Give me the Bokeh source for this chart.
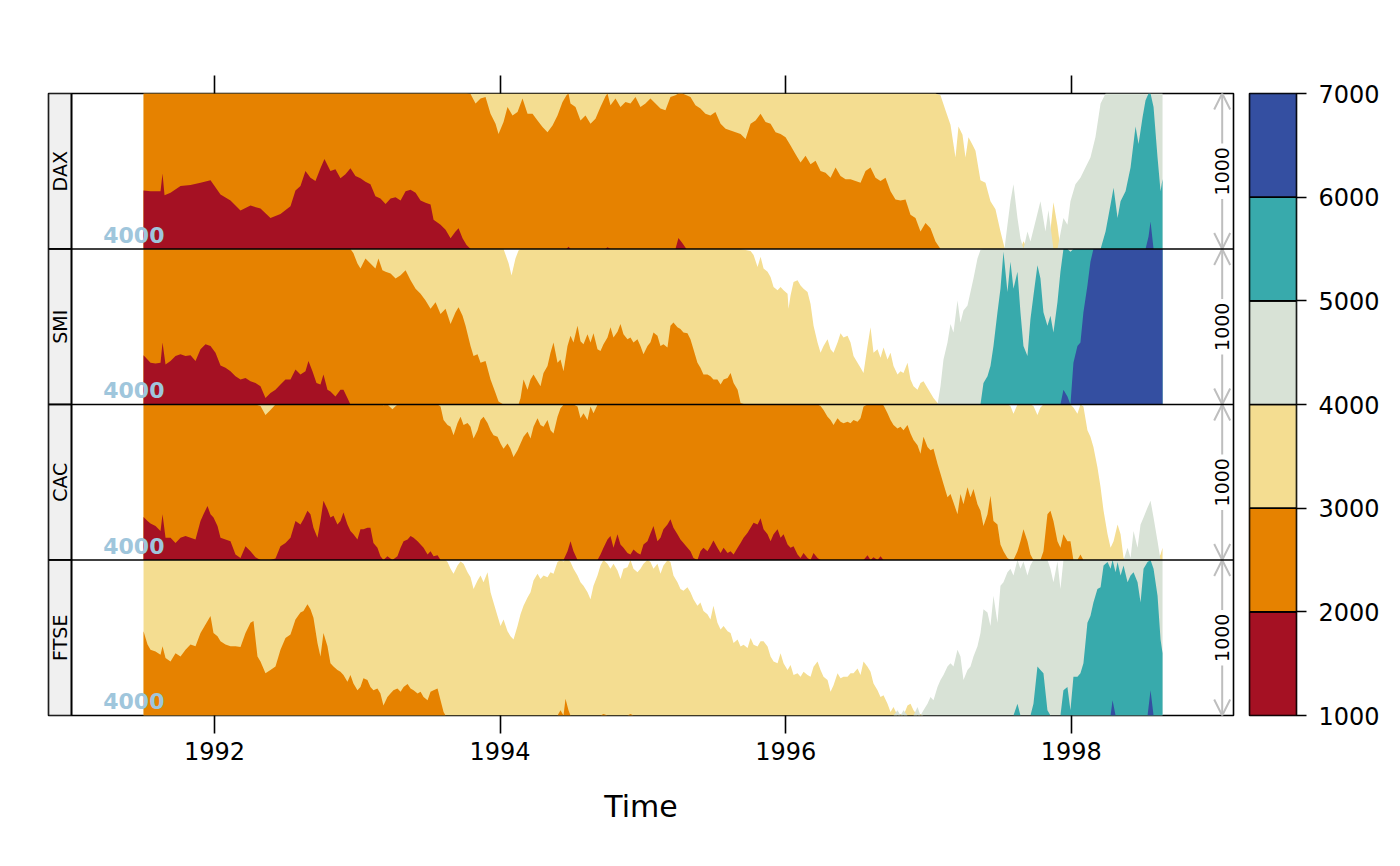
import numpy as np
from bokeh.plotting import figure
from bokeh.models import Range1d, LinearAxis, FixedTicker, Span, Arrow, OpenHead
from bokeh.layouts import row
from bokeh.embed import file_html
from bokeh.resources import INLINE
from bokeh.core.properties import value

# ---------------- data ----------------
series_names = ["DAX", "SMI", "CAC", "FTSE"]
origin_value = 4000
horizon_scale = 1000
x_ticks = [1992, 1994, 1996, 1998]
key_breaks = [1000, 2000, 3000, 4000, 5000, 6000, 7000]
key_colors = ["#A51123", "#E68200", "#F4DD91", "#D8E2D6", "#38AAAC", "#344FA1"]

dax_year = [1991.503, 1991.552, 1991.622, 1991.636, 1991.650, 1991.692, 1991.762, 1991.832, 1991.902, 1991.972,
            1992.042, 1992.112, 1992.182, 1992.252, 1992.322, 1992.392, 1992.462, 1992.532, 1992.567, 1992.602,
            1992.637, 1992.672, 1992.707, 1992.742, 1992.770, 1992.812, 1992.847, 1992.882, 1992.917, 1992.952,
            1992.987, 1993.022, 1993.057, 1993.092, 1993.127, 1993.162, 1993.198, 1993.233, 1993.268, 1993.303,
            1993.338, 1993.373, 1993.408, 1993.443, 1993.478, 1993.513, 1993.534, 1993.583, 1993.618, 1993.653,
            1993.688, 1993.709, 1993.737, 1993.765, 1993.793, 1993.828, 1993.863, 1993.898, 1993.933, 1993.968,
            1993.989, 1994.024, 1994.052, 1994.087, 1994.122, 1994.157, 1994.192, 1994.227, 1994.262, 1994.297,
            1994.332, 1994.367, 1994.402, 1994.437, 1994.465, 1994.479, 1994.493, 1994.528, 1994.563, 1994.598,
            1994.633, 1994.668, 1994.703, 1994.738, 1994.752, 1994.773, 1994.808, 1994.843, 1994.878, 1994.913,
            1994.948, 1994.983, 1995.018, 1995.053, 1995.088, 1995.123, 1995.158, 1995.193, 1995.228, 1995.249,
            1995.277, 1995.305, 1995.333, 1995.368, 1995.403, 1995.438, 1995.473, 1995.508, 1995.544, 1995.579,
            1995.614, 1995.649, 1995.684, 1995.719, 1995.754, 1995.789, 1995.824, 1995.859, 1995.894, 1995.929,
            1995.964, 1995.999, 1996.034, 1996.069, 1996.104, 1996.139, 1996.174, 1996.209, 1996.244, 1996.279,
            1996.314, 1996.349, 1996.384, 1996.419, 1996.454, 1996.489, 1996.524, 1996.559, 1996.594, 1996.629,
            1996.664, 1996.699, 1996.734, 1996.769, 1996.804, 1996.839, 1996.874, 1996.909, 1996.944, 1996.979,
            1997.014, 1997.049, 1997.084, 1997.119, 1997.154, 1997.189, 1997.210, 1997.238, 1997.259, 1997.280,
            1997.308, 1997.329, 1997.364, 1997.399, 1997.434, 1997.469, 1997.504, 1997.532, 1997.553, 1997.574,
            1997.595, 1997.623, 1997.644, 1997.665, 1997.693, 1997.714, 1997.749, 1997.784, 1997.819, 1997.840,
            1997.875, 1997.903, 1997.924, 1997.945, 1997.973, 1997.994, 1998.029, 1998.064, 1998.099, 1998.134,
            1998.169, 1998.205, 1998.240, 1998.275, 1998.296, 1998.324, 1998.345, 1998.380, 1998.415, 1998.450,
            1998.471, 1998.499, 1998.520, 1998.541, 1998.555, 1998.576, 1998.604, 1998.625, 1998.639]
dax_value = [1623, 1628, 1628, 1515, 1654, 1639, 1595, 1589, 1574, 1558,
             1649, 1688, 1753, 1721, 1740, 1801, 1775, 1725, 1623, 1595,
             1498, 1541, 1563, 1481, 1422, 1498, 1487, 1545, 1519, 1481,
             1530, 1545, 1567, 1584, 1660, 1675, 1710, 1675, 1667, 1688,
             1628, 1619, 1639, 1688, 1703, 1714, 1812, 1844, 1877, 1931,
             1887, 1866, 1931, 1974, 2004, 2065, 2032, 2022, 2130, 2195,
             2260, 2184, 2087, 2141, 2119, 2032, 2130, 2130, 2173, 2216,
             2249, 2206, 2141, 2054, 2011, 1985, 2065, 2087, 2173, 2141,
             2195, 2162, 2087, 2017, 1988, 2076, 2032, 2087, 2054, 2065,
             2022, 2087, 2065, 2032, 2065, 2097, 2108, 2022, 2011, 1930,
             1963, 2011, 2022, 2076, 2097, 2130, 2141, 2119, 2195, 2227,
             2238, 2249, 2260, 2292, 2195, 2173, 2130, 2184, 2195, 2249,
             2260, 2281, 2335, 2390, 2444, 2400, 2455, 2433, 2498, 2509,
             2541, 2476, 2530, 2552, 2552, 2563, 2574, 2498, 2476, 2541,
             2563, 2541, 2628, 2682, 2688, 2682, 2779, 2801, 2887, 2833,
             2866, 2952, 3011, 3108, 3201, 3411, 3212, 3266, 3411, 3281,
             3330, 3368, 3558, 3574, 3693, 3745, 3887, 3990, 4156, 4307,
             4416, 4199, 4069, 3950, 4113, 4048, 4177, 4307, 4113, 4250,
             3700, 3850, 4100, 4199, 4156, 4307, 4416, 4459, 4524, 4589,
             4719, 4935, 5113, 5286, 5394, 5199, 5307, 5372, 5524, 5788,
             5675, 5848, 5957, 6080, 6177, 5913, 5589, 5372, 5450]

smi_year = [1991.503, 1991.552, 1991.587, 1991.622, 1991.636, 1991.657, 1991.692, 1991.727, 1991.762, 1991.797,
            1991.832, 1991.867, 1991.902, 1991.937, 1991.972, 1992.007, 1992.042, 1992.077, 1992.112, 1992.147,
            1992.182, 1992.217, 1992.252, 1992.287, 1992.322, 1992.357, 1992.392, 1992.427, 1992.462, 1992.497,
            1992.532, 1992.567, 1992.602, 1992.637, 1992.658, 1992.686, 1992.714, 1992.742, 1992.763, 1992.791,
            1992.812, 1992.847, 1992.882, 1992.903, 1992.931, 1992.952, 1992.973, 1993.001, 1993.022, 1993.057,
            1993.092, 1993.127, 1993.148, 1993.176, 1993.198, 1993.233, 1993.268, 1993.303, 1993.338, 1993.373,
            1993.408, 1993.443, 1993.478, 1993.513, 1993.548, 1993.583, 1993.618, 1993.653, 1993.688, 1993.709,
            1993.737, 1993.758, 1993.793, 1993.814, 1993.842, 1993.863, 1993.898, 1993.933, 1993.968, 1993.989,
            1994.024, 1994.059, 1994.080, 1994.108, 1994.129, 1994.143, 1994.164, 1994.192, 1994.213, 1994.234,
            1994.262, 1994.283, 1994.304, 1994.332, 1994.353, 1994.374, 1994.402, 1994.423, 1994.444, 1994.472,
            1994.493, 1994.514, 1994.542, 1994.563, 1994.584, 1994.612, 1994.633, 1994.654, 1994.682, 1994.703,
            1994.724, 1994.752, 1994.773, 1994.794, 1994.822, 1994.843, 1994.864, 1994.892, 1994.913, 1994.934,
            1994.962, 1994.983, 1995.004, 1995.032, 1995.053, 1995.074, 1995.102, 1995.123, 1995.144, 1995.172,
            1995.193, 1995.214, 1995.242, 1995.263, 1995.284, 1995.312, 1995.333, 1995.354, 1995.382, 1995.403,
            1995.424, 1995.452, 1995.473, 1995.494, 1995.522, 1995.544, 1995.565, 1995.593, 1995.614, 1995.635,
            1995.663, 1995.684, 1995.719, 1995.754, 1995.775, 1995.803, 1995.824, 1995.845, 1995.873, 1995.894,
            1995.915, 1995.943, 1995.964, 1995.985, 1996.013, 1996.020, 1996.034, 1996.055, 1996.083, 1996.104,
            1996.125, 1996.153, 1996.174, 1996.195, 1996.223, 1996.244, 1996.265, 1996.293, 1996.314, 1996.335,
            1996.363, 1996.384, 1996.405, 1996.433, 1996.454, 1996.475, 1996.503, 1996.524, 1996.545, 1996.573,
            1996.594, 1996.615, 1996.643, 1996.664, 1996.685, 1996.713, 1996.734, 1996.755, 1996.783, 1996.804,
            1996.825, 1996.853, 1996.874, 1996.895, 1996.923, 1996.944, 1996.965, 1996.993, 1997.014, 1997.035,
            1997.063, 1997.084, 1997.105, 1997.133, 1997.154, 1997.175, 1997.203, 1997.224, 1997.245, 1997.273,
            1997.294, 1997.315, 1997.343, 1997.364, 1997.385, 1997.413, 1997.434, 1997.455, 1997.483, 1997.504,
            1997.525, 1997.553, 1997.574, 1997.595, 1997.623, 1997.644, 1997.665, 1997.693, 1997.714, 1997.735,
            1997.763, 1997.784, 1997.805, 1997.833, 1997.854, 1997.875, 1997.903, 1997.924, 1997.945, 1997.973,
            1997.994, 1998.015, 1998.043, 1998.064, 1998.085, 1998.113, 1998.134, 1998.155, 1998.205, 1998.275,
            1998.345, 1998.415, 1998.485, 1998.555, 1998.604, 1998.639]
smi_value = [1684, 1732, 1736, 1732, 1602, 1742, 1721, 1688, 1677, 1688,
             1684, 1721, 1645, 1613, 1623, 1667, 1749, 1764, 1786, 1818,
             1840, 1829, 1851, 1861, 1883, 1959, 1926, 1905, 1872, 1840,
             1840, 1775, 1807, 1786, 1721, 1786, 1861, 1872, 1807, 1905,
             1916, 1948, 1905, 1905, 1959, 2000, 2028, 2093, 2126, 2061,
             2093, 2126, 2061, 2136, 2147, 2158, 2190, 2169, 2136, 2201,
             2255, 2288, 2331, 2385, 2342, 2418, 2385, 2483, 2407, 2374,
             2429, 2494, 2623, 2688, 2677, 2732, 2721, 2840, 2926, 2981,
             3000, 3090, 3170, 3060, 3010, 2960, 2840, 2905, 2840, 2807,
             2851, 2883, 2797, 2753, 2667, 2602, 2732, 2710, 2786, 2623,
             2558, 2602, 2494, 2593, 2613, 2548, 2602, 2541, 2645, 2656,
             2613, 2569, 2504, 2569, 2532, 2483, 2548, 2580, 2569, 2602,
             2580, 2623, 2677, 2623, 2600, 2537, 2558, 2623, 2613, 2634,
             2494, 2472, 2504, 2515, 2537, 2541, 2580, 2645, 2732, 2764,
             2807, 2807, 2818, 2840, 2840, 2872, 2840, 2829, 2797, 2861,
             2905, 2991, 3006, 3013, 3039, 3115, 3050, 3126, 3147, 3180,
             3245, 3266, 3245, 3266, 3288, 3385, 3299, 3212, 3201, 3234,
             3255, 3277, 3353, 3494, 3602, 3667, 3623, 3580, 3645, 3667,
             3602, 3541, 3569, 3558, 3602, 3688, 3732, 3764, 3797, 3623,
             3504, 3667, 3645, 3699, 3634, 3710, 3667, 3753, 3807, 3786,
             3797, 3732, 3840, 3883, 3905, 3861, 3851, 3894, 3926, 3959,
             3991, 4117, 4290, 4398, 4517, 4463, 4669, 4528, 4604, 4636,
             4723, 4810, 4939, 4994, 5139, 5182, 5247, 5377, 5593, 5745,
             5983, 5723, 5918, 5745, 5853, 5593, 5377, 5312, 5550, 5701,
             5896, 5810, 5593, 5506, 5571, 5463, 5658, 5853, 6095, 6052,
             5983, 6268, 6377, 6398, 6593, 6766, 6918, 7050, 7300, 7600,
             7700, 8000, 8200, 8300, 7900, 7700]

cac_year = [1991.503, 1991.531, 1991.552, 1991.587, 1991.622, 1991.636, 1991.657, 1991.692, 1991.727, 1991.762,
            1991.797, 1991.832, 1991.867, 1991.902, 1991.923, 1991.951, 1991.972, 1991.993, 1992.021, 1992.042,
            1992.077, 1992.112, 1992.147, 1992.182, 1992.217, 1992.252, 1992.287, 1992.322, 1992.357, 1992.392,
            1992.427, 1992.462, 1992.497, 1992.532, 1992.567, 1992.602, 1992.623, 1992.651, 1992.672, 1992.693,
            1992.721, 1992.742, 1992.763, 1992.791, 1992.812, 1992.833, 1992.861, 1992.882, 1992.903, 1992.931,
            1992.952, 1992.973, 1993.001, 1993.022, 1993.043, 1993.071, 1993.092, 1993.113, 1993.141, 1993.162,
            1993.183, 1993.211, 1993.246, 1993.281, 1993.303, 1993.324, 1993.352, 1993.373, 1993.394, 1993.422,
            1993.443, 1993.464, 1993.492, 1993.513, 1993.534, 1993.562, 1993.583, 1993.604, 1993.632, 1993.653,
            1993.674, 1993.702, 1993.723, 1993.744, 1993.772, 1993.793, 1993.814, 1993.842, 1993.863, 1993.884,
            1993.912, 1993.933, 1993.954, 1993.982, 1994.003, 1994.024, 1994.052, 1994.073, 1994.094, 1994.122,
            1994.143, 1994.164, 1994.192, 1994.213, 1994.234, 1994.262, 1994.283, 1994.304, 1994.332, 1994.353,
            1994.374, 1994.402, 1994.423, 1994.444, 1994.472, 1994.493, 1994.514, 1994.542, 1994.563, 1994.584,
            1994.612, 1994.633, 1994.654, 1994.682, 1994.703, 1994.724, 1994.752, 1994.773, 1994.794, 1994.822,
            1994.843, 1994.864, 1994.892, 1994.913, 1994.934, 1994.962, 1994.983, 1995.004, 1995.032, 1995.053,
            1995.074, 1995.102, 1995.123, 1995.144, 1995.172, 1995.193, 1995.214, 1995.242, 1995.263, 1995.284,
            1995.312, 1995.333, 1995.354, 1995.382, 1995.403, 1995.424, 1995.452, 1995.473, 1995.494, 1995.522,
            1995.544, 1995.565, 1995.593, 1995.614, 1995.635, 1995.663, 1995.684, 1995.705, 1995.733, 1995.754,
            1995.775, 1995.803, 1995.824, 1995.845, 1995.873, 1995.894, 1995.915, 1995.943, 1995.964, 1995.985,
            1996.013, 1996.034, 1996.055, 1996.083, 1996.104, 1996.125, 1996.153, 1996.174, 1996.195, 1996.223,
            1996.244, 1996.265, 1996.293, 1996.314, 1996.335, 1996.363, 1996.384, 1996.405, 1996.433, 1996.454,
            1996.475, 1996.503, 1996.524, 1996.545, 1996.573, 1996.594, 1996.615, 1996.643, 1996.664, 1996.685,
            1996.713, 1996.734, 1996.755, 1996.783, 1996.804, 1996.825, 1996.853, 1996.874, 1996.895, 1996.923,
            1996.944, 1996.965, 1996.993, 1997.014, 1997.035, 1997.063, 1997.084, 1997.105, 1997.133, 1997.154,
            1997.175, 1997.203, 1997.224, 1997.245, 1997.273, 1997.294, 1997.315, 1997.343, 1997.364, 1997.385,
            1997.413, 1997.434, 1997.455, 1997.483, 1997.504, 1997.525, 1997.553, 1997.574, 1997.595, 1997.623,
            1997.644, 1997.665, 1997.693, 1997.714, 1997.735, 1997.763, 1997.784, 1997.805, 1997.833, 1997.854,
            1997.875, 1997.903, 1997.924, 1997.945, 1997.973, 1997.994, 1998.015, 1998.043, 1998.064, 1998.085,
            1998.113, 1998.134, 1998.155, 1998.183, 1998.205, 1998.226, 1998.254, 1998.275, 1998.296, 1998.324,
            1998.345, 1998.366, 1998.394, 1998.415, 1998.436, 1998.464, 1998.485, 1998.506, 1998.534, 1998.555,
            1998.576, 1998.604, 1998.625, 1998.639]
cac_value = [1723, 1749, 1766, 1781, 1814, 1706, 1857, 1857, 1890, 1857,
             1846, 1857, 1868, 1749, 1706, 1652, 1706, 1727, 1781, 1857,
             1868, 1879, 1965, 1987, 1911, 1944, 1983, 2010, 2067, 2035,
             1990, 1911, 1890, 1857, 1749, 1771, 1738, 1684, 1706, 1792,
             1857, 1749, 1619, 1673, 1727, 1716, 1771, 1749, 1695, 1771,
             1814, 1835, 1868, 1803, 1803, 1792, 1792, 1890, 1922, 1976,
             2005, 1976, 2030, 1976, 1922, 1879, 1868, 1846, 1857, 1879,
             1900, 1922, 1965, 1944, 1976, 1970, 2013, 2100, 2132, 2143,
             2197, 2119, 2078, 2132, 2119, 2143, 2219, 2165, 2100, 2078,
             2119, 2165, 2197, 2208, 2251, 2284, 2251, 2284, 2338, 2295,
             2251, 2208, 2175, 2219, 2143, 2089, 2132, 2143, 2100, 2165,
             2186, 2078, 2024, 2002, 1944, 1879, 1944, 2013, 2089, 2056,
             2100, 2013, 2056, 2002, 1965, 1922, 1868, 1846, 1922, 1835,
             1900, 1922, 1955, 1965, 1933, 1955, 1965, 1900, 1879, 1830,
             1781, 1879, 1857, 1803, 1771, 1738, 1792, 1835, 1868, 1890,
             1922, 1944, 1987, 2000, 1944, 1922, 1944, 1911, 1874, 1922,
             1955, 1922, 1955, 1944, 1965, 1922, 1890, 1857, 1825, 1792,
             1760, 1771, 1732, 1803, 1835, 1879, 1835, 1803, 1857, 1835,
             1900, 1922, 1911, 1965, 1987, 1955, 1987, 2003, 1955, 1987,
             2010, 2035, 2078, 2100, 2132, 2089, 2111, 2121, 2111, 2121,
             2100, 2111, 2089, 2013, 1970, 2000, 1983, 2002, 1976, 2005,
             2056, 2100, 2132, 2154, 2143, 2165, 2132, 2186, 2229, 2262,
             2316, 2208, 2273, 2294, 2284, 2381, 2446, 2511, 2597, 2576,
             2630, 2706, 2576, 2641, 2532, 2597, 2543, 2641, 2684, 2781,
             2706, 2587, 2749, 2771, 2900, 2944, 2987, 3010, 3060, 2944,
             2879, 2803, 2879, 2965, 3010, 3067, 3020, 2944, 2706, 2684,
             2749, 2879, 2922, 2835, 2879, 2879, 3020, 3060, 2965, 3013,
             3165, 3208, 3273, 3403, 3532, 3684, 3835, 3922, 3879, 3771,
             3835, 3987, 4078, 4013, 4186, 4078, 4229, 4273, 4338, 4381,
             4273, 4121, 3965, 3922]

ftse_year = [1991.503, 1991.531, 1991.552, 1991.587, 1991.622, 1991.636, 1991.657, 1991.692, 1991.727, 1991.762,
             1991.797, 1991.832, 1991.867, 1991.902, 1991.937, 1991.972, 1991.993, 1992.021, 1992.042, 1992.077,
             1992.112, 1992.147, 1992.182, 1992.217, 1992.252, 1992.273, 1992.301, 1992.322, 1992.357, 1992.392,
             1992.427, 1992.462, 1992.497, 1992.532, 1992.567, 1992.602, 1992.623, 1992.651, 1992.672, 1992.693,
             1992.721, 1992.742, 1992.763, 1992.791, 1992.812, 1992.833, 1992.861, 1992.882, 1992.903, 1992.931,
             1992.952, 1992.973, 1993.001, 1993.022, 1993.043, 1993.071, 1993.092, 1993.113, 1993.141, 1993.162,
             1993.183, 1993.211, 1993.232, 1993.253, 1993.281, 1993.303, 1993.324, 1993.352, 1993.373, 1993.394,
             1993.422, 1993.443, 1993.464, 1993.492, 1993.513, 1993.534, 1993.562, 1993.583, 1993.604, 1993.618,
             1993.632, 1993.653, 1993.674, 1993.702, 1993.723, 1993.744, 1993.772, 1993.793, 1993.814, 1993.842,
             1993.863, 1993.884, 1993.912, 1993.933, 1993.954, 1993.982, 1994.003, 1994.024, 1994.052, 1994.073,
             1994.094, 1994.122, 1994.143, 1994.164, 1994.192, 1994.213, 1994.234, 1994.262, 1994.283, 1994.304,
             1994.332, 1994.353, 1994.374, 1994.402, 1994.423, 1994.444, 1994.458, 1994.479, 1994.493, 1994.514,
             1994.542, 1994.563, 1994.584, 1994.612, 1994.633, 1994.654, 1994.682, 1994.703, 1994.724, 1994.752,
             1994.773, 1994.794, 1994.822, 1994.843, 1994.864, 1994.892, 1994.913, 1994.934, 1994.962, 1994.983,
             1995.004, 1995.032, 1995.053, 1995.074, 1995.102, 1995.123, 1995.144, 1995.172, 1995.193, 1995.214,
             1995.242, 1995.263, 1995.284, 1995.312, 1995.333, 1995.354, 1995.382, 1995.403, 1995.424, 1995.452,
             1995.473, 1995.494, 1995.522, 1995.544, 1995.565, 1995.593, 1995.614, 1995.635, 1995.663, 1995.684,
             1995.705, 1995.733, 1995.754, 1995.775, 1995.803, 1995.824, 1995.845, 1995.873, 1995.894, 1995.915,
             1995.943, 1995.964, 1995.985, 1996.013, 1996.034, 1996.055, 1996.083, 1996.104, 1996.125, 1996.153,
             1996.174, 1996.195, 1996.223, 1996.244, 1996.265, 1996.293, 1996.314, 1996.335, 1996.363, 1996.384,
             1996.405, 1996.433, 1996.454, 1996.475, 1996.503, 1996.524, 1996.545, 1996.573, 1996.594, 1996.615,
             1996.643, 1996.664, 1996.685, 1996.713, 1996.734, 1996.755, 1996.783, 1996.804, 1996.825, 1996.853,
             1996.874, 1996.895, 1996.923, 1996.944, 1996.965, 1996.993, 1997.014, 1997.035, 1997.063, 1997.084,
             1997.105, 1997.133, 1997.154, 1997.175, 1997.203, 1997.224, 1997.245, 1997.273, 1997.294, 1997.315,
             1997.343, 1997.364, 1997.385, 1997.413, 1997.434, 1997.455, 1997.483, 1997.504, 1997.525, 1997.553,
             1997.574, 1997.595, 1997.623, 1997.644, 1997.665, 1997.693, 1997.714, 1997.735, 1997.763, 1997.784,
             1997.805, 1997.833, 1997.854, 1997.875, 1997.903, 1997.924, 1997.945, 1997.973, 1997.994, 1998.015,
             1998.043, 1998.064, 1998.085, 1998.113, 1998.134, 1998.155, 1998.183, 1998.205, 1998.226, 1998.254,
             1998.275, 1998.289, 1998.310, 1998.324, 1998.345, 1998.366, 1998.394, 1998.415, 1998.436, 1998.464,
             1998.485, 1998.506, 1998.534, 1998.555, 1998.576, 1998.604, 1998.625, 1998.639]
ftse_value = [2458, 2544, 2577, 2588, 2610, 2555, 2631, 2653, 2599, 2620,
              2577, 2544, 2555, 2469, 2414, 2360, 2469, 2490, 2523, 2544,
              2555, 2555, 2560, 2469, 2403, 2393, 2620, 2653, 2729, 2707,
              2685, 2577, 2501, 2479, 2382, 2338, 2328, 2284, 2317, 2371,
              2534, 2620, 2469, 2555, 2664, 2685, 2707, 2718, 2740, 2783,
              2740, 2794, 2837, 2816, 2761, 2772, 2816, 2837, 2826, 2859,
              2935, 2881, 2859, 2837, 2826, 2848, 2816, 2798, 2826, 2837,
              2859, 2848, 2881, 2902, 2848, 2837, 2826, 2902, 2978, 3000,
              3013, 3056, 3089, 3035, 3009, 3024, 3078, 3111, 3187, 3132,
              3100, 3143, 3078, 3208, 3273, 3360, 3425, 3382, 3458, 3490,
              3512, 3425, 3349, 3295, 3241, 3208, 3132, 3089, 3122, 3100,
              3111, 3078, 3089, 3013, 2967, 3010, 2892, 2967, 3013, 3056,
              3100, 3143, 3165, 3208, 3252, 3165, 3100, 3035, 2990, 3024,
              3056, 3024, 3067, 3122, 3056, 3046, 2990, 3056, 3078, 3056,
              3024, 3000, 3013, 3056, 3024, 3089, 3035, 3002, 3013, 3100,
              3143, 3187, 3198, 3176, 3208, 3252, 3295, 3273, 3328, 3349,
              3382, 3295, 3404, 3447, 3425, 3458, 3469, 3534, 3512, 3556,
              3545, 3566, 3501, 3545, 3556, 3523, 3523, 3556, 3620, 3653,
              3664, 3599, 3664, 3707, 3675, 3740, 3729, 3751, 3718, 3740,
              3751, 3686, 3653, 3707, 3751, 3772, 3848, 3805, 3729, 3761,
              3751, 3751, 3729, 3729, 3697, 3740, 3653, 3686, 3718, 3794,
              3837, 3881, 3870, 3924, 3978, 3946, 4033, 3990, 4033, 3935,
              3924, 3967, 4054, 3990, 4033, 4076, 4119, 4098, 4184, 4228,
              4260, 4315, 4336, 4315, 4423, 4380, 4228, 4293, 4315, 4380,
              4445, 4531, 4683, 4662, 4575, 4770, 4597, 4835, 4857, 4922,
              4944, 4900, 5076, 4944, 4990, 4900, 4967, 5076, 5315, 5293,
              5271, 5033, 4944, 4857, 4990, 4813, 5163, 5184, 5033, 5249,
              5249, 5271, 5336, 5597, 5640, 5727, 5813, 5824, 5965, 5987,
              5944, 6098, 5922, 5987, 5900, 5965, 5857, 5900, 5922, 5857,
              5727, 5944, 5987, 6163, 5944, 5770, 5488, 5401]

series_years = [dax_year, smi_year, cac_year, ftse_year]
series_values = [dax_value, smi_value, cac_value, ftse_value]
for yy, vv in zip(series_years, series_values):
    assert len(yy) == len(vv), (len(yy), len(vv))

# ---------------- layout / style ----------------
X_LO, STRIP_X, X_HI = 1990.8375, 1990.9986, 1999.1359
ARROW_X = 1999.0567
LABEL_X = 1991.2206
FONT = "DejaVu Sans"
neg_colors = [key_colors[2], key_colors[1], key_colors[0]]
pos_colors = [key_colors[3], key_colors[4], key_colors[5]]
n_panels = len(series_names)

p = figure(width=1241, height=848, x_range=Range1d(X_LO, X_HI),
           y_range=Range1d(0, n_panels * horizon_scale),
           output_backend="svg", toolbar_location=None,
           x_axis_location=None, y_axis_location=None,
           min_border_left=48, min_border_right=8, min_border_top=93, min_border_bottom=133)
p.grid.visible = False
p.outline_line_color = "black"
p.outline_line_width = 1.6
p.background_fill_color = "white"
p.border_fill_color = "white"

for i, name in enumerate(series_names):
    base = (n_panels - 1 - i) * horizon_scale
    t = np.array(series_years[i], dtype=float)
    d = np.array(series_values[i], dtype=float) - origin_value
    for k in range(3):
        h = np.clip(-d - k * horizon_scale, 0, horizon_scale)
        p.varea(x=t, y1=base, y2=base + h, fill_color=neg_colors[k])
    for k in range(3):
        h = np.clip(d - k * horizon_scale, 0, horizon_scale)
        p.varea(x=t, y1=base, y2=base + h, fill_color=pos_colors[k])
    # strip
    p.quad(left=X_LO, right=STRIP_X, bottom=base, top=base + horizon_scale,
           fill_color="#F0F0F0", line_color="black", line_width=1.6)
    p.text(x=(X_LO + STRIP_X) / 2, y=base + horizon_scale / 2, text=[name], angle=np.pi / 2,
           text_align="center", text_baseline="middle", text_font=value(FONT),
           text_font_size="19px", text_color="black")
    # origin label
    p.text(x=LABEL_X, y=base + 0.04 * horizon_scale, text=[str(origin_value)],
           text_align="left", text_baseline="bottom", text_font=value(FONT),
           text_font_style="bold", text_font_size="22px", text_color="#9FC6DC")
    # horizon scale arrow
    p.add_layout(Arrow(end=OpenHead(size=16, line_color="#BEBEBE", line_width=2),
                       x_start=ARROW_X, y_start=base + 0.678 * horizon_scale,
                       x_end=ARROW_X, y_end=base + horizon_scale,
                       line_color="#BEBEBE", line_width=2))
    p.add_layout(Arrow(end=OpenHead(size=16, line_color="#BEBEBE", line_width=2),
                       x_start=ARROW_X, y_start=base + 0.322 * horizon_scale,
                       x_end=ARROW_X, y_end=base,
                       line_color="#BEBEBE", line_width=2))
    p.text(x=ARROW_X, y=base + horizon_scale / 2, text=[str(horizon_scale)], angle=np.pi / 2,
           text_align="center", text_baseline="middle", text_font=value(FONT),
           text_font_size="19px", text_color="black")

for k in range(1, n_panels):
    p.add_layout(Span(location=k * horizon_scale, dimension="width",
                      line_color="black", line_width=1.6))
p.add_layout(Span(location=STRIP_X, dimension="height", line_color="black", line_width=1.6))

xb = LinearAxis(ticker=FixedTicker(ticks=x_ticks, minor_ticks=[]),
                major_tick_out=18, major_tick_in=0, minor_tick_out=0, minor_tick_in=0,
                major_tick_line_width=1.6, major_tick_line_color="black", axis_line_color=None,
                major_label_text_font=FONT, major_label_text_font_size="24px",
                major_label_text_color="black",
                major_label_standoff=8, axis_label="Time",
                axis_label_text_font=FONT, axis_label_text_font_size="30px",
                axis_label_text_color="black",
                axis_label_text_font_style="normal", axis_label_standoff=26)
p.add_layout(xb, "below")
xt = LinearAxis(ticker=FixedTicker(ticks=x_ticks, minor_ticks=[]),
                major_tick_out=18, major_tick_in=0, minor_tick_out=0, minor_tick_in=0,
                major_tick_line_width=1.6, major_tick_line_color="black", axis_line_color=None,
                major_label_overrides={t: "" for t in x_ticks})
p.add_layout(xt, "above")

# color key
kf = figure(width=151, height=848, x_range=Range1d(0, 1),
            y_range=Range1d(key_breaks[0], key_breaks[-1]),
            output_backend="svg", toolbar_location=None,
            x_axis_location=None, y_axis_location=None,
            min_border_left=8, min_border_right=96, min_border_top=93, min_border_bottom=133)
kf.grid.visible = False
kf.outline_line_color = "black"
kf.outline_line_width = 1.6
kf.border_fill_color = "white"
kf.quad(left=0, right=1, bottom=key_breaks[:-1], top=key_breaks[1:],
        fill_color=key_colors, line_color="black", line_width=1.6)
ya = LinearAxis(ticker=FixedTicker(ticks=key_breaks, minor_ticks=[]),
                major_tick_out=10, major_tick_in=0, minor_tick_out=0, minor_tick_in=0,
                major_tick_line_width=1.6, major_tick_line_color="black", axis_line_color=None,
                major_label_text_font=FONT, major_label_text_font_size="24px",
                major_label_text_color="black",
                major_label_standoff=12)
kf.add_layout(ya, "right")

layout = row(p, kf)
open("out.html", "w").write(file_html(layout, INLINE))
